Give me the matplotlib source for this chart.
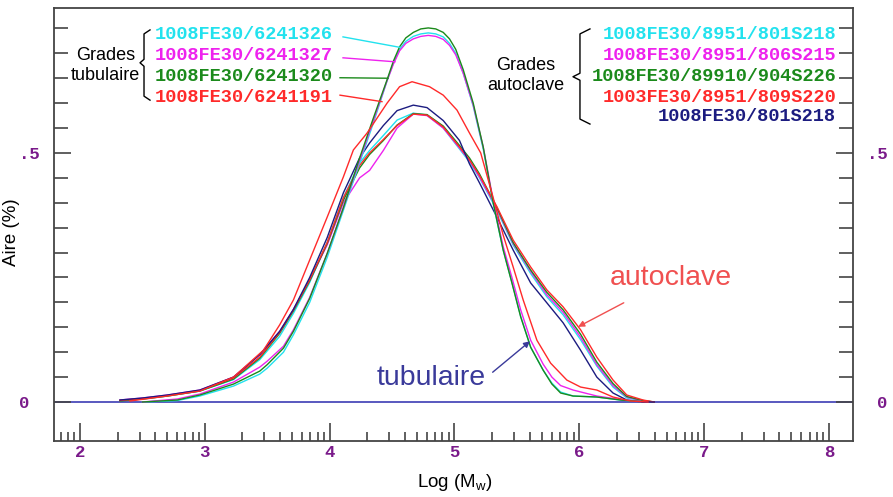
import numpy as np
import matplotlib
matplotlib.use("Agg")
import matplotlib.pyplot as plt

# ---------------- data ----------------
# Autoclave grades (shared x grid, log Mw)
x_auto = [2.32, 2.5, 2.7, 2.96, 3.23, 3.44, 3.6, 3.71, 3.84, 3.98, 4.11, 4.24, 4.32,
          4.43, 4.54, 4.67, 4.78, 4.91, 5.04, 5.12, 5.2, 5.34, 5.47, 5.61, 5.74,
          5.87, 6.01, 6.14, 6.27, 6.38, 6.51, 6.6]
auto_cyan = [0.003, 0.006, 0.012, 0.022, 0.045, 0.085, 0.132, 0.178, 0.24, 0.32, 0.41,
             0.48, 0.505, 0.535, 0.566, 0.58, 0.576, 0.55, 0.508, 0.482, 0.45, 0.385,
             0.315, 0.258, 0.211, 0.175, 0.125, 0.072, 0.03, 0.008, 0.002, 0.0]
auto_magenta = [0.004, 0.008, 0.014, 0.024, 0.05, 0.095, 0.142, 0.186, 0.245, 0.315, 0.40,
                0.45, 0.465, 0.505, 0.55, 0.578, 0.575, 0.55, 0.51, 0.485, 0.452, 0.388,
                0.318, 0.262, 0.215, 0.18, 0.13, 0.075, 0.033, 0.01, 0.002, 0.0]
auto_green = [0.002, 0.006, 0.012, 0.022, 0.046, 0.088, 0.138, 0.183, 0.243, 0.318, 0.405,
              0.47, 0.497, 0.525, 0.556, 0.579, 0.577, 0.554, 0.515, 0.49, 0.458, 0.39,
              0.32, 0.265, 0.22, 0.185, 0.136, 0.08, 0.037, 0.011, 0.003, 0.0]
auto_red = [0.003, 0.007, 0.013, 0.023, 0.048, 0.09, 0.14, 0.185, 0.245, 0.32, 0.41,
            0.475, 0.50, 0.527, 0.555, 0.578, 0.576, 0.552, 0.512, 0.486, 0.455, 0.392,
            0.325, 0.271, 0.225, 0.191, 0.145, 0.09, 0.044, 0.014, 0.004, 0.0]
auto_navy = [0.004, 0.008, 0.014, 0.024, 0.05, 0.095, 0.142, 0.186, 0.25, 0.33, 0.42,
             0.49, 0.52, 0.555, 0.585, 0.596, 0.591, 0.565, 0.525, 0.478, 0.44, 0.371,
             0.305, 0.239, 0.199, 0.159, 0.104, 0.05, 0.018, 0.004, 0.0, 0.0]

# Tubular grades
x_tub = [2.5, 2.78, 2.96, 3.23, 3.44, 3.5, 3.63, 3.71, 3.84, 3.98,
         4.11, 4.24, 4.35, 4.46, 4.51, 4.56, 4.61, 4.67, 4.73, 4.79,
         4.85, 4.91, 4.96, 5.01, 5.07, 5.15, 5.23, 5.31, 5.39, 5.46,
         5.53, 5.61, 5.71, 5.78, 5.85, 5.95, 6.14, 6.33, 6.49]
tub_cyan = [0.0, 0.003, 0.012, 0.032, 0.056, 0.068, 0.1, 0.135, 0.2, 0.29,
            0.385, 0.48, 0.56, 0.645, 0.68, 0.708, 0.724, 0.734, 0.739, 0.741,
            0.739, 0.733, 0.72, 0.70, 0.66, 0.594, 0.508, 0.398, 0.305, 0.24,
            0.172, 0.11, 0.064, 0.038, 0.02, 0.012, 0.01, 0.004, 0.001]
tub_magenta = [0.0, 0.006, 0.016, 0.04, 0.07, 0.082, 0.112, 0.145, 0.21, 0.298,
               0.39, 0.485, 0.565, 0.645, 0.678, 0.705, 0.72, 0.729, 0.734, 0.736,
               0.734, 0.728, 0.716, 0.697, 0.66, 0.596, 0.512, 0.405, 0.312, 0.25,
               0.185, 0.124, 0.076, 0.05, 0.033, 0.024, 0.012, 0.005, 0.001]
tub_green = [0.0, 0.004, 0.014, 0.036, 0.062, 0.075, 0.108, 0.142, 0.208, 0.298,
             0.39, 0.49, 0.57, 0.647, 0.684, 0.713, 0.731, 0.742, 0.749, 0.751,
             0.749, 0.742, 0.729, 0.708, 0.667, 0.60, 0.512, 0.40, 0.305, 0.239,
             0.171, 0.11, 0.064, 0.036, 0.018, 0.012, 0.01, 0.004, 0.001]
x_tub_red = [2.4, 2.7, 2.96, 3.23, 3.47, 3.6, 3.71, 3.84, 3.98, 4.11, 4.19, 4.3, 4.46,
             4.56, 4.66, 4.8, 4.91, 5.02, 5.12, 5.21, 5.31, 5.39, 5.47, 5.55, 5.66,
             5.77, 5.90, 6.01, 6.14, 6.27, 6.41, 6.55]
tub_red = [0.002, 0.012, 0.022, 0.05, 0.104, 0.155, 0.205, 0.285, 0.371, 0.452, 0.506,
           0.54, 0.60, 0.633, 0.643, 0.633, 0.616, 0.586, 0.54, 0.50, 0.41, 0.335, 0.271,
           0.205, 0.124, 0.078, 0.044, 0.03, 0.024, 0.01, 0.002, 0.0]

tub_labels = ["1008FE30/6241326", "1008FE30/6241327", "1008FE30/6241320", "1008FE30/6241191"]
auto_labels = ["1008FE30/8951/801S218", "1008FE30/8951/806S215", "1008FE30/89910/904S226",
               "1003FE30/8951/809S220", "1008FE30/801S218"]

CYAN = "#22e2ee"
MAGENTA = "#ee22ee"
GREEN = "#1b8a1b"
RED = "#ff2a2a"
NAVY = "#1c1c80"
PURPLE = "#7a1a8a"

tub_colors = [CYAN, MAGENTA, GREEN, RED]
auto_colors = [CYAN, MAGENTA, GREEN, RED, NAVY]

# ---------------- figure ----------------
fig = plt.figure(figsize=(8.93, 4.97), dpi=100)
ax = fig.add_axes([54 / 893, 56 / 497, (853 - 54) / 893, (441 - 8) / 497])
ax.set_xlim(1.792, 8.192)
ax.set_ylim(-0.0783, 0.791)

lw = 1.0
ax.axhline(0, color="#3c3cb4", lw=1.2, zorder=1)
for y, c in zip([auto_cyan, auto_magenta, auto_green, auto_red, auto_navy], auto_colors):
    ax.plot(x_auto, y, color=c, lw=lw, zorder=2)
for y, c in zip([tub_cyan, tub_magenta, tub_green], tub_colors[:3]):
    ax.plot(x_tub, y, color=c, lw=lw, zorder=2)
ax.plot(x_tub_red, tub_red, color=RED, lw=lw, zorder=2)

# spines
for s in ax.spines.values():
    s.set_color("#444444")
    s.set_linewidth(1.3)

# x ticks (log-like decades)
major_x = [2, 3, 4, 5, 6, 7, 8]
minor_x = [n + np.log10(k) for n in range(1, 9) for k in range(2, 10)
           if 1.792 < n + np.log10(k) < 8.192]
ax.set_xticks(major_x)
ax.set_xticklabels([str(v) for v in major_x])
ax.set_xticks(minor_x, minor=True)
ax.tick_params(axis="x", which="major", direction="in", length=13, width=1.2,
               color="#444444", pad=3, labelsize=12.5, labelcolor=PURPLE)
ax.tick_params(axis="x", which="minor", direction="in", length=6.5, width=1.2,
               color="#444444")
for lab in ax.get_xticklabels():
    lab.set_fontfamily("Liberation Mono")
    lab.set_fontweight("bold")

# y ticks
ax.set_yticks([0, 0.5])
ax.set_yticklabels(["0", ".5"])
ax.set_yticks([0.05 * i for i in range(1, 16) if i != 10], minor=True)
ax.tick_params(axis="y", which="both", direction="in", left=True, right=True,
               labelleft=True, labelright=True, color="#444444", width=1.2)
ax.tick_params(axis="y", which="major", length=12, pad=25, labelsize=12.5,
               labelcolor=PURPLE)
ax.tick_params(axis="y", which="minor", length=10)
for t in ax.yaxis.get_major_ticks():
    for lab, ha in ((t.label1, "left"), (t.label2, "right")):
        lab.set_fontfamily("Liberation Mono")
        lab.set_fontweight("bold")
        lab.set_color(PURPLE)
        lab.set_fontsize(12.5)
        lab.set_horizontalalignment(ha)

ax.set_ylabel("Aire (%)", fontsize=13.5, family="Liberation Sans")
ax.yaxis.set_label_coords(-0.0426, 0.483)
ax.set_xlabel("Log (M$_\\mathregular{w}$)", fontsize=13.5, family="Liberation Sans")
ax.xaxis.set_label_coords(0.502, -0.072)

mono = dict(family="Liberation Mono", fontweight="bold", fontsize=13.4)

# tubulaire labels
tub_text_y = [0.737, 0.695, 0.653, 0.612]
tub_line_start = [(4.107, 0.733), (4.107, 0.691), (4.083, 0.651), (4.083, 0.616)]
tub_line_end = [(4.563, 0.712), (4.523, 0.683), (4.467, 0.650), (4.419, 0.603)]
for lab, c, ty, s, e in zip(tub_labels, tub_colors, tub_text_y, tub_line_start, tub_line_end):
    ax.text(2.601, ty, lab, color=c, ha="left", va="center", **mono)
    ax.plot([s[0], e[0]], [s[1], e[1]], color=c, lw=1.0)

# bracket left
bx = [2.561, 2.513, 2.513, 2.481, 2.513, 2.513, 2.561]
by = [0.747, 0.739, 0.688, 0.681, 0.674, 0.614, 0.606]
ax.plot(bx, by, color="black", lw=1.0)
ax.text(2.205, 0.676, "Grades\ntubulaire", ha="center", va="center", fontsize=13,
        family="Liberation Sans", linespacing=1.25)

# autoclave labels
auto_text_y = [0.737, 0.695, 0.653, 0.612, 0.574]
for lab, c, ty in zip(auto_labels, auto_colors, auto_text_y):
    ax.text(8.056, ty, lab, color=c, ha="right", va="center", **mono)
bx2 = [6.085, 6.005, 6.005, 5.949, 6.005, 6.005, 6.085]
by2 = [0.749, 0.739, 0.660, 0.653, 0.646, 0.568, 0.558]
ax.plot(bx2, by2, color="black", lw=1.0)
ax.text(5.573, 0.655, "Grades\nautoclave", ha="center", va="center", fontsize=13,
        family="Liberation Sans", linespacing=1.25)

# group annotations
ax.annotate("autoclave", xy=(5.99, 0.151), xytext=(6.734, 0.249), ha="center", va="center",
            fontsize=20.5, family="Liberation Sans", color="#f05050",
            arrowprops=dict(arrowstyle="-|>", color="#f05050", lw=1.0, mutation_scale=9,
                            shrinkA=14, shrinkB=0))
ax.annotate("tubulaire", xy=(5.605, 0.122), xytext=(4.812, 0.048), ha="center", va="center",
            fontsize=20.5, family="Liberation Sans", color="#3a3a9a",
            arrowprops=dict(arrowstyle="-|>", color="#3a3a9a", lw=1.0, mutation_scale=9,
                            shrinkA=4, shrinkB=0, relpos=(1.0, 0.5)))

fig.savefig("out.png", dpi=100)
